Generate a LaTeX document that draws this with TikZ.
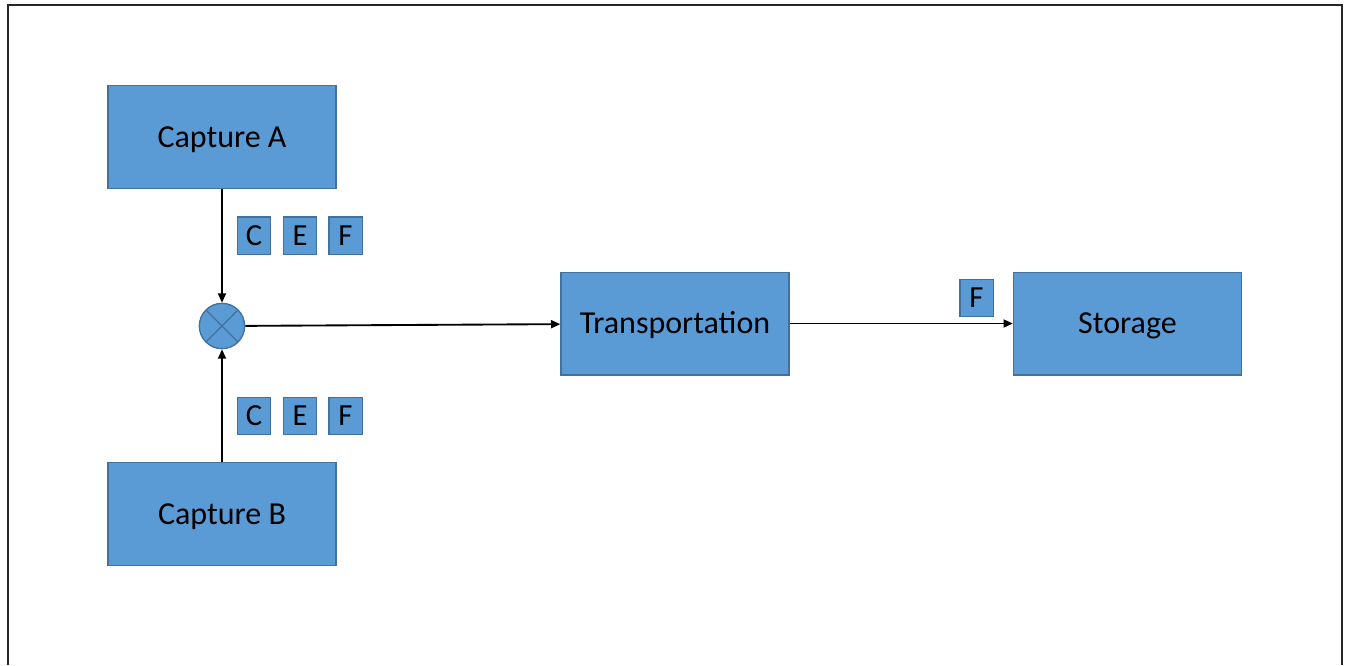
\documentclass[tikz,border=0pt]{standalone}
\usepackage{fontspec}
\setmainfont{Carlito}
\usetikzlibrary{arrows.meta}
\definecolor{boxfill}{HTML}{5B9BD5}
\definecolor{boxline}{HTML}{41719C}
\begin{document}
\begin{tikzpicture}[x=0.75pt,y=-0.75pt,
  bigbox/.style={draw=boxline,line width=1pt,fill=boxfill,minimum width=171pt,minimum height=77pt,inner sep=0pt,text height=15.5pt,text depth=0pt,font=\fontsize{24}{28}\selectfont},
  tag/.style={draw=boxline,line width=1pt,fill=boxfill,minimum width=25pt,minimum height=28pt,inner sep=0pt,text height=14.8pt,text depth=0pt,font=\fontsize{23}{26}\selectfont},
  conn/.style={line width=1.4pt,-{Triangle[length=7pt,width=6pt]}}]
\useasboundingbox (0,0) rectangle (1345,665);
\fill[white] (0,0) rectangle (1345,665);
\draw[line width=1.6pt,black!85] (8,665) -- (8,5) -- (1342,5) -- (1342,665);
\node[bigbox] (capA) at (222,137) {Capture A};
\node[bigbox] (capB) at (222,514) {Capture B};
\node[bigbox] (trans) at (675,323.5) {Transportation};
\node[bigbox] (stor) at (1127.5,323.5) {Storage};
\node[circle,draw=boxline,line width=1pt,fill=boxfill,minimum size=34pt,inner sep=0pt,
  path picture={\draw[boxline,line width=1pt] (path picture bounding box.north west) -- (path picture bounding box.south east) (path picture bounding box.north east) -- (path picture bounding box.south west);}] (mix) at (222,326) {};
\node[tag] (a1) at (254,235.5) {C};
\node[tag] (a2) at (300,235.5) {E};
\node[tag] (a3) at (345.5,235.5) {F};
\node[tag] (b1) at (254,416) {C};
\node[tag] (b2) at (300,416) {E};
\node[tag] (b3) at (345.5,416) {F};
\node[tag] (sf) at (976.5,298) {F};
\draw[conn] (capA) -- (mix);
\draw[conn] (capB) -- (mix);
\draw[conn] (mix) -- (trans);
\draw[conn] (trans) -- (stor);
\end{tikzpicture}
\end{document}
